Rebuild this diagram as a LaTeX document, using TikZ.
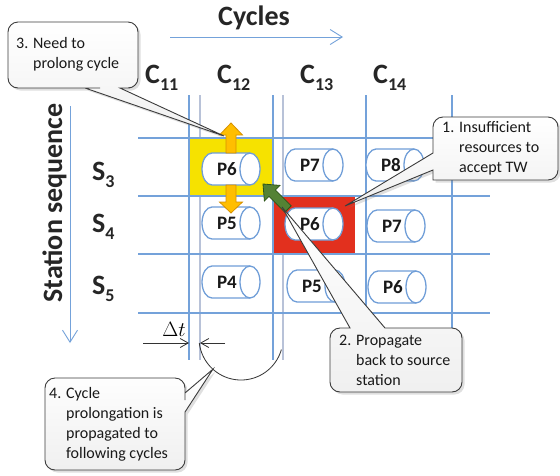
\documentclass[tikz,border=0pt]{standalone}
\usepackage{fontspec}
\setmainfont{Carlito}
\usetikzlibrary{arrows.meta,shadows,calc}

\definecolor{gridblue}{RGB}{116,162,218}
\definecolor{gridpale}{RGB}{184,194,216}
\definecolor{drumblue}{RGB}{112,158,216}
\definecolor{shiftyellow}{RGB}{246,226,0}
\definecolor{overred}{RGB}{226,48,30}
\definecolor{upfill}{RGB}{255,190,0}
\definecolor{updraw}{RGB}{215,145,0}
\definecolor{backfill}{RGB}{84,130,52}
\definecolor{backdraw}{RGB}{45,85,25}
\definecolor{notedraw}{RGB}{60,60,60}

% lowered index digits next to a cycle / station letter
\newcommand\lowsub[1]{\raisebox{-7pt}{\fontsize{18}{18}\selectfont #1}}

% horizontal drum: #1 name, #2 centre x, #3 centre y, #4 label
\newcommand\drum[4]{%
  \filldraw[drumline] (#2+19,#3-16) -- (#2-19,#3-16)
     arc[start angle=90,end angle=270,x radius=10pt,y radius=16pt]
     -- (#2+19,#3+16);
  \filldraw[drumline] (#2+19,#3) ellipse[x radius=10pt,y radius=16pt];
  \node[drumtext] (#1) at ({#2-4},#3) {#4};}

\begin{document}
\begin{tikzpicture}[x=1pt,y=-1pt,
  gridline/.style={gridblue,line width=1.4pt},
  paleline/.style={gridpale,line width=1.4pt},
  drumline/.style={draw=drumblue,fill=white,line width=1.3pt},
  drumtext/.style={font=\fontsize{19}{19}\selectfont\bfseries,text=black!90,inner sep=0pt},
  headtext/.style={font=\fontsize{28}{28}\selectfont\bfseries,text=black!85,inner sep=0pt},
  axisarrow/.style={gridblue,line width=0.9pt,-{Straight Barb[length=12pt,width=15pt,line width=0.9pt]}},
  dimarrow/.style={black!80,line width=0.8pt,-{Straight Barb[length=8pt,width=9pt,line width=0.8pt]}},
  note/.style={draw=notedraw,line width=0.9pt,top color=white,bottom color=black!6,
    drop shadow={shadow xshift=2.5pt,shadow yshift=-2.5pt,opacity=0.25}},
  notetext/.style={font=\fontsize{16}{20}\selectfont,text=black!90,inner sep=0pt,anchor=west}]

\useasboundingbox (0,0) rectangle (560,475);
\fill[white] (0,0) rectangle (560,475);

% axis captions and arrows
\node[headtext,anchor=base west] (cycles) at (218,25) {Cycles};
\coordinate (cyA) at (170,37);
\coordinate (cyB) at (343,37);
\draw[axisarrow] (cyA) -- (cyB);

\node[headtext,rotate=90,anchor=base] (stations) at (62,203) {Station sequence};
\coordinate (stA) at (70,106);
\coordinate (stB) at (70,343);
\draw[axisarrow] (stA) -- (stB);

% cycle and station labels
\node[headtext,anchor=base west] (c11) at (145,83) {C\lowsub{11}};
\node[headtext,anchor=base west] (c12) at (217,83) {C\lowsub{12}};
\node[headtext,anchor=base west] (c13) at (300,83) {C\lowsub{13}};
\node[headtext,anchor=base west] (c14) at (373,83) {C\lowsub{14}};
\node[headtext,anchor=base west] (s3) at (92,180) {S\lowsub{3}};
\node[headtext,anchor=base west] (s4) at (92,232) {S\lowsub{4}};
\node[headtext,anchor=base west] (s5) at (92,294) {S\lowsub{5}};

% shifted cycle borders
\draw[paleline] (200,95) -- (200,360);
\draw[paleline] (283,95) -- (283,360);

% highlighted cells
\fill[shiftyellow] (189,138) rectangle (273,196);
\fill[overred] (273,196) rectangle (355,254);

% schedule grid
\foreach \yy in {138,196,254,313} \draw[gridline] (138,\yy) -- (490,\yy);
\foreach \xx in {189,273,366,452} \draw[gridline] (\xx,95) -- (\xx,360);

% products in the cells
\drum{d312}{231}{169}{P6}
\drum{d313}{314}{165}{P7}
\drum{d314}{395}{165}{P8}
\drum{d412}{231}{223}{P5}
\drum{d413}{314}{224}{P6}
\drum{d414}{396}{226}{P7}
\drum{d512}{231}{282}{P4}
\drum{d513}{316}{286}{P5}
\drum{d514}{397}{287}{P6}

% prolongation arrows
\filldraw[fill=upfill,draw=updraw,line width=0.8pt]
  (226,153) -- (226,135) -- (219.5,135) -- (231,123) -- (242.5,135) -- (236,135) -- (236,153) -- cycle;
\filldraw[fill=upfill,draw=updraw,line width=0.8pt]
  (226,185) -- (226,202) -- (219.5,202) -- (231,213) -- (242.5,202) -- (236,202) -- (236,185) -- cycle;

% back-propagation arrow
\filldraw[fill=backfill,draw=backdraw,line width=0.8pt]
  (291.2,205.8) -- (275.4,190.0) -- (280.0,185.4) -- (263,184) -- (264.4,201.0)
  -- (269.0,196.4) -- (284.8,212.2) -- cycle;

% cycle time extension
\coordinate (dtA) at (143,343);
\coordinate (dtB) at (189,343);
\coordinate (dtC) at (225,343);
\coordinate (dtD) at (200,343);
\draw[dimarrow] (dtA) -- (dtB);
\draw[dimarrow] (dtC) -- (dtD);
\node[font=\fontsize{21}{21}\selectfont,inner sep=0pt] (dt) at (174,329) {$\Delta t$};
\draw[black!80,line width=0.8pt] plot[domain=16:173,samples=60] ({241+42*cos(\x)},{338+42*sin(\x)});

% callout targets
\coordinate (tip1) at (345,206);
\coordinate (tip2) at (282,207);
\coordinate (tip3) at (224,136);
\coordinate (tip4) at ({241+42*cos(132)},{338+42*sin(132)});

% callouts
\path[note] (433,135) -- (433,153) -- (tip1) -- (433,170) -- (433,180) [rounded corners=10pt]
  -- (558,180) -- (558,117) -- (433,117) -- (433,135);
\node[notetext] (note1) at (442,148)
  {\begin{tabular}{@{}l@{ }l@{}}1. & Insufficient\\ & resources to\\ & accept TW\end{tabular}};

\path[note] (340,328) -- (350,328) -- (tip2) -- (385,328) -- (400,328) [rounded corners=10pt]
  -- (462,328) -- (462,392) -- (330,392) -- (330,328) -- (340,328);
\node[notetext] (note2) at (339,361)
  {\begin{tabular}{@{}l@{ }l@{}}2. & Propagate\\ & back to source\\ & station\end{tabular}};

\path[note] (100,88) -- (85,88) -- (tip3) -- (120,88) -- (130,88) [rounded corners=10pt]
  -- (138,88) -- (138,22) -- (8,22) -- (8,88) -- (100,88);
\node[notetext] (note3) at (16,54)
  {\begin{tabular}{@{}l@{ }l@{}}3. & Need to\\ & prolong cycle\end{tabular}};

\path[note] (185,400) -- (185,393) -- (tip4) -- (185,412) -- (185,430) [rounded corners=10pt]
  -- (185,470) -- (45,470) -- (45,378) -- (185,378) -- (185,400);
\node[notetext] (note4) at (49,424)
  {\begin{tabular}{@{}l@{ }l@{}}4. & Cycle\\ & prolongation is\\ & propagated to\\ & following cycles\end{tabular}};

\end{tikzpicture}
\end{document}
